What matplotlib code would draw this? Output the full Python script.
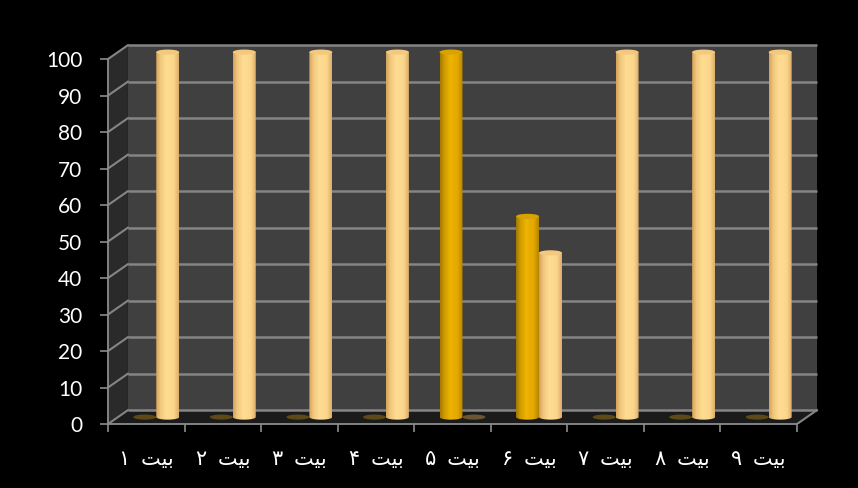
import numpy as np
import matplotlib.pyplot as plt
from matplotlib.patches import Polygon, Ellipse
from matplotlib.path import Path
from matplotlib.colors import LinearSegmentedColormap

categories = ['بیت ۱', 'بیت ۲', 'بیت ۳', 'بیت ۴', 'بیت ۵', 'بیت ۶', 'بیت ۷', 'بیت ۸', 'بیت ۹']
series_a = [0, 0, 0, 0, 100, 55, 0, 0, 0]            # dark gold
series_b = [100, 100, 100, 100, 0, 45, 100, 100, 100]  # light cream
yticks = list(range(0, 101, 10))

# minimal arabic shaping (matplotlib draws glyphs left to right, unjoined)
FORMS = {'ب': ('\ufe8f', '\ufe90', '\ufe91', '\ufe92'),
         'ی': ('\ufbfc', '\ufbfd', '\ufef3', '\ufef4'),
         'ت': ('\ufe95', '\ufe96', '\ufe97', '\ufe98')}


def shape_word(w):
    if not all(c in FORMS for c in w):
        return w
    out = []
    for i, c in enumerate(w):
        prev, nxt = i > 0, i < len(w) - 1
        idx = 3 if prev and nxt else 1 if prev else 2 if nxt else 0
        out.append(FORMS[c][idx])
    return ''.join(reversed(out))


def rtl(s):
    return '  '.join(shape_word(w) for w in reversed(s.split(' ')))


n = len(categories)
DX, DY = 0.26, 3.8        # depth offset of back wall (data units)
BW = 0.30                 # cylinder width
EH = 0.7                  # half height of cylinder ellipse

dark_cm = LinearSegmentedColormap.from_list('dark', [
    (0, '#a47900'), (0.18, '#cf9b00'), (0.45, '#efb300'), (0.78, '#e3a700'), (1, '#b38500')])
light_cm = LinearSegmentedColormap.from_list('light', [
    (0, '#d4a25a'), (0.18, '#f0c77c'), (0.45, '#ffdd93'), (0.78, '#fbd68b'), (1, '#dcae6c')])
grad = np.linspace(0, 1, 64)[np.newaxis, :]


def cylinder(ax, xc, y0, y1, cmap, top, disc):
    if y1 - y0 <= 0:
        ax.add_patch(Ellipse((xc, y0), BW, 2 * EH, facecolor=disc,
                             edgecolor='none', zorder=3))
        return
    t = np.linspace(np.pi, 2 * np.pi, 40)
    verts = [(xc - BW / 2, y1), (xc - BW / 2, y0)]
    verts += list(zip(xc + BW / 2 * np.cos(t), y0 + EH * np.sin(t)))
    verts += [(xc + BW / 2, y1), (xc - BW / 2, y1)]
    path = Path(verts)
    im = ax.imshow(grad, cmap=cmap, extent=(xc - BW / 2, xc + BW / 2, y0 - EH, y1),
                   aspect='auto', interpolation='bilinear', zorder=3)
    im.set_clip_path(path, ax.transData)
    ax.add_patch(Ellipse((xc, y1), BW, 2 * EH, facecolor=top,
                         edgecolor='none', zorder=4))


fig = plt.figure(figsize=(8.58, 4.88), dpi=100, facecolor='black')
ax = fig.add_axes([0.1259, 0.1311, 0.8298, 0.7816])
ax.set_facecolor('none')

# walls and floor
ax.add_patch(Polygon([(DX, DY), (n + DX, DY), (n + DX, 100 + DY), (DX, 100 + DY)],
                     closed=True, facecolor='#404040', edgecolor='none', zorder=0))
ax.add_patch(Polygon([(0, 0), (DX, DY), (DX, 100 + DY), (0, 100)],
                     closed=True, facecolor='#2a2a2a', edgecolor='none', zorder=0))
ax.add_patch(Polygon([(0, 0), (n, 0), (n + DX, DY), (DX, DY)],
                     closed=True, facecolor='#1b1b1b', edgecolor='none', zorder=1))
for v in yticks:
    ax.plot([DX, n + DX], [v + DY, v + DY], color='#858585', lw=1.8, zorder=1,
            solid_capstyle='butt')
    ax.plot([0, DX], [v, v + DY], color='#858585', lw=1.5, zorder=1)
ax.plot([n, n + DX], [0, DY], color='#858585', lw=1.5, zorder=1)

# cylinders at mid depth
for i in range(n):
    xc = i + 0.5 + DX / 2
    y0 = DY / 2
    cylinder(ax, xc - BW / 2, y0, y0 + series_a[i], dark_cm, '#d9a200', '#5e4a16')
    cylinder(ax, xc + BW / 2, y0, y0 + series_b[i], light_cm, '#f3c97f', '#6b5631')

ax.set_xlim(0, 9.3)
ax.set_ylim(0, 104.5)

for side in ('top', 'right'):
    ax.spines[side].set_visible(False)
ax.spines['left'].set_bounds(0, 100)
ax.spines['bottom'].set_bounds(0, n)
for side in ('left', 'bottom'):
    ax.spines[side].set_color('#8c8c8c')
    ax.spines[side].set_linewidth(1.3)
    ax.spines[side].set_zorder(2)

ax.set_yticks(yticks)
ax.set_yticklabels([str(v) for v in yticks], family=['Lato', 'DejaVu Sans'])
ax.tick_params(axis='y', length=5.5, width=1.2, color='#8c8c8c', pad=13,
               labelsize=15, labelcolor='white')

ax.set_xticks(np.arange(n + 1))
ax.set_xticklabels([])
ax.set_xticks(np.arange(n) + 0.5, minor=True)
ax.set_xticklabels([rtl(c) for c in categories], minor=True,
                   family=['Lato', 'DejaVu Sans'])
ax.tick_params(axis='x', which='major', length=5.5, width=1.2, color='#8c8c8c')
ax.tick_params(axis='x', which='minor', length=0, pad=18, labelsize=15,
               labelcolor='white')

fig.savefig('out.png', dpi=100, facecolor='black')
